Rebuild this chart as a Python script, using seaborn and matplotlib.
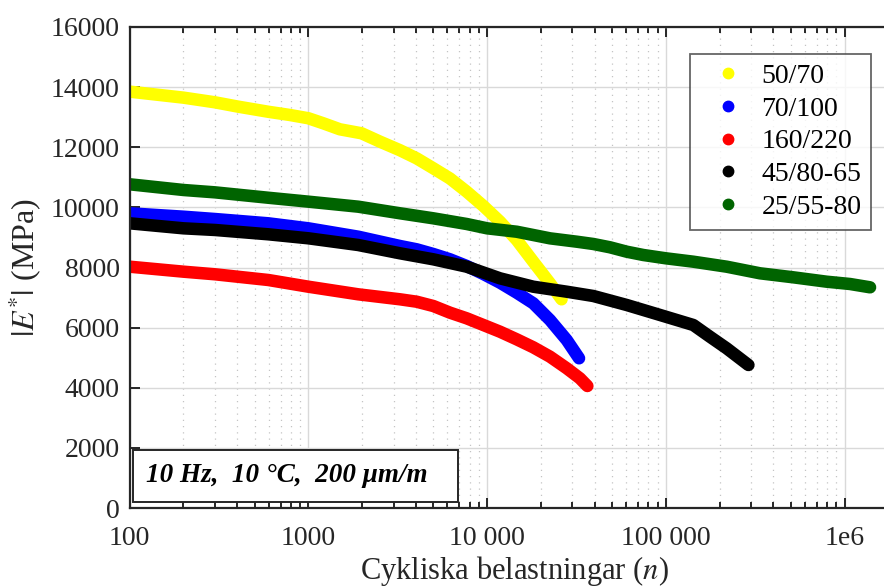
import numpy as np
import pandas as pd
import matplotlib
matplotlib.use("Agg")
import matplotlib.pyplot as plt
from matplotlib.lines import Line2D
from matplotlib.patches import Rectangle
from matplotlib.ticker import FixedLocator, LogLocator, FixedFormatter, NullFormatter
import seaborn as sns

# Stiffness modulus |E*| (MPa) versus number of load cycles n
binders = ["50/70", "70/100", "160/220", "45/80-65", "25/55-80"]
colors = ["#ffff00", "#0000ff", "#ff0000", "#000000", "#006400"]

n_5070 = [100, 200, 300, 405, 597, 788, 1000, 1211, 1500, 1985, 2518, 3256, 4036, 5000, 6200, 7690,
          9530, 11810, 14650, 18130, 22480, 26100]
e_5070 = [13850, 13650, 13495, 13350, 13180, 13073, 12964, 12797, 12597, 12464, 12185, 11900, 11630, 11300, 10960, 10522,
          10046, 9524, 8915, 8193, 7474, 6942]

n_70100 = [100, 200, 300, 597, 1000, 1900, 3256, 4036, 5000, 6200, 7690, 9530, 11810, 14650,
           18130, 22480, 27900, 32700]
e_70100 = [9803, 9690, 9613, 9470, 9303, 9025, 8715, 8605, 8449, 8272, 8050, 7784, 7495, 7162,
           6809, 6254, 5588, 4980]

n_160220 = [100, 200, 300, 597, 1000, 1900, 3256, 4036, 5000, 6200, 7690, 9530, 11810, 14650,
            18130, 22480, 27900, 33050, 36400]
e_160220 = [8027, 7861, 7774, 7584, 7361, 7108, 6942, 6862, 6719, 6497, 6309, 6087, 5864, 5610,
            5345, 5034, 4647, 4314, 4058]

n_4580 = [100, 200, 300, 597, 1000, 1900, 3256, 5000, 7690, 11810, 18130, 27900, 39300, 60400,
          92900, 142600, 176500, 219000, 290000]
e_4580 = [9470, 9303, 9248, 9104, 8971, 8748, 8472, 8272, 8027, 7640, 7361, 7195, 7052, 6753,
          6420, 6087, 5698, 5312, 4757]

n_2555 = [100, 200, 300, 597, 1000, 1900, 3256, 5000, 7690, 10000, 14650, 22480, 31700, 39300,
          48700, 60400, 74800, 100000, 142600, 219000, 336500, 516000, 794000, 1074000, 1390000]
e_2555 = [10768, 10578, 10500, 10320, 10190, 10023, 9803, 9636, 9447, 9303, 9190, 8970, 8859, 8782,
          8672, 8526, 8416, 8306, 8193, 8027, 7807, 7674, 7528, 7451, 7341]

x_ticks = [100, 1000, 10000, 100000, 1000000]
x_ticklabels = ["100", "1000", "10 000", "100 000", "1e6"]
y_ticks = [0, 2000, 4000, 6000, 8000, 10000, 12000, 14000, 16000]

series = [(n_5070, e_5070), (n_70100, e_70100), (n_160220, e_160220), (n_4580, e_4580), (n_2555, e_2555)]
df = pd.concat(
    [pd.DataFrame({"n": n, "E": e, "binder": b}) for b, (n, e) in zip(binders, series)],
    ignore_index=True,
)

sns.set_style("ticks")
plt.rcParams["font.family"] = ["Liberation Serif", "DejaVu Serif"]
plt.rcParams["mathtext.fontset"] = "stix"

W, H = 884, 587
fig = plt.figure(figsize=(W / 100, H / 100), dpi=100)
left_px, right_px, top_px, bottom_px = 129.7, 898.3, 27.0, 508.0
ax = fig.add_axes([left_px / W, 1 - bottom_px / H, (right_px - left_px) / W, (bottom_px - top_px) / H])

ax.set_xscale("log")
ax.set_xlim(100, 2e6)
ax.set_ylim(0, 16000)

# grid: solid major lines, dotted minor lines along x
ax.set_axisbelow(True)
ax.grid(True, which="major", color="#d9d9d9", linewidth=1.0, linestyle="-")
ax.xaxis.set_minor_locator(LogLocator(base=10, subs=np.arange(2, 10), numticks=20))
ax.grid(True, which="minor", axis="x", color="#c4c4c4", linewidth=0.9, linestyle=(0, (1, 4)))

sns.lineplot(
    data=df, x="n", y="E", hue="binder", hue_order=binders,
    palette=dict(zip(binders, colors)), linewidth=9.0, sort=False,
    legend=False, ax=ax, solid_capstyle="round", solid_joinstyle="round",
)

ax.xaxis.set_major_locator(FixedLocator(x_ticks))
ax.xaxis.set_major_formatter(FixedFormatter(x_ticklabels))
ax.xaxis.set_minor_formatter(NullFormatter())
ax.yaxis.set_major_locator(FixedLocator(y_ticks))

for side, sp in ax.spines.items():
    sp.set_color("#262626")
    sp.set_linewidth(1.6)
ax.tick_params(which="both", direction="in", top=True, right=True, color="#262626", width=1.4)
ax.tick_params(which="major", length=7, labelsize=20, labelcolor="#262626")
ax.tick_params(which="minor", length=4.5)
ax.tick_params(axis="x", which="major", pad=13)
ax.tick_params(axis="y", which="major", pad=7)

ax.set_xlabel("Cykliska belastningar ($n$)", fontsize=22, color="#262626", labelpad=2)
ax.set_ylabel("$|E^{*}|$ (MPa)", fontsize=23, color="#262626", labelpad=5)

handles = [Line2D([], [], linestyle="none", marker="o", markersize=7.5, color=c) for c in colors]
leg = ax.legend(
    handles, binders, loc="upper right",
    bbox_to_anchor=((871 - left_px) / (right_px - left_px), (bottom_px - 54) / (bottom_px - top_px)),
    fontsize=20, frameon=True, fancybox=False, handletextpad=0.2, handlelength=2.0,
    labelspacing=0.26, borderpad=0.35, borderaxespad=0,
)
leg.get_frame().set_edgecolor("#404040")
leg.get_frame().set_linewidth(1.3)
for t in leg.get_texts():
    t.set_color("black")

# test-condition annotation box
aw = right_px - left_px
ah = bottom_px - top_px
ax.add_patch(Rectangle(((133 - left_px) / aw, (bottom_px - 502) / ah), (458 - 133) / aw, (502 - 450) / ah,
                       transform=ax.transAxes, facecolor="white", edgecolor="#262626", linewidth=1.4, zorder=5))
ax.text((287 - left_px) / aw, (bottom_px - 476) / ah, "10 Hz,  10 °C,  200 μm/m",
        transform=ax.transAxes, ha="center", va="center", fontsize=19.5,
        fontweight="bold", fontstyle="italic", color="black", zorder=6)

fig.savefig("out.png", dpi=100)
